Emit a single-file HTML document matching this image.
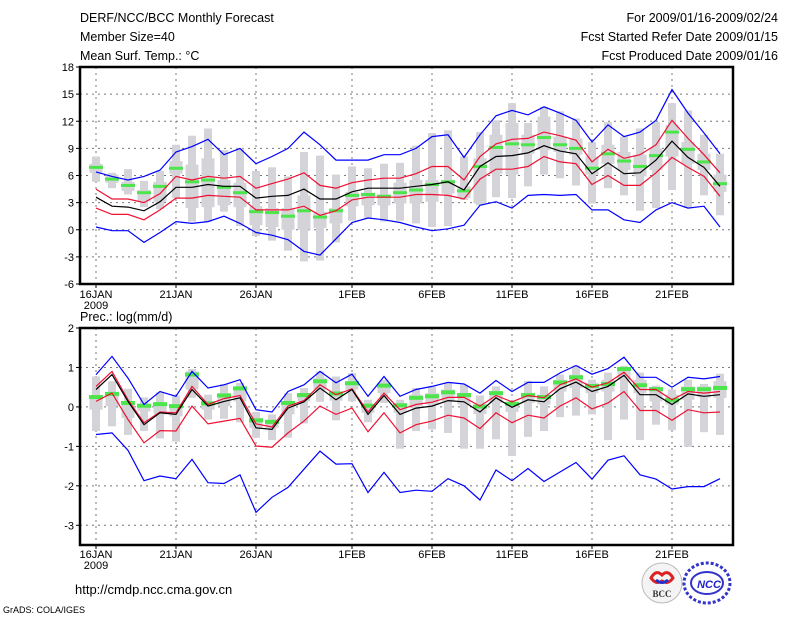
<!DOCTYPE html>
<html><head><meta charset="utf-8"><style>
body{margin:0;background:#fff;}
svg{display:block;font-family:"Liberation Sans","DejaVu Sans",sans-serif;}
</style></head><body>
<svg id="c" width="800" height="618" xmlns="http://www.w3.org/2000/svg">
<text x="80" y="22" font-size="12.5">DERF/NCC/BCC Monthly Forecast</text>
<text x="80" y="41" font-size="12.5">Member Size=40</text>
<text x="80" y="60" font-size="12.5">Mean Surf. Temp.: °C</text>
<text x="778" y="22" font-size="12.5" text-anchor="end">For 2009/01/16-2009/02/24</text>
<text x="778" y="41" font-size="12.5" text-anchor="end">Fcst Started Refer Date 2009/01/15</text>
<text x="778" y="60" font-size="12.5" text-anchor="end">Fcst Produced Date 2009/01/16</text>
<text x="80" y="321" font-size="12.5">Prec.: log(mm/d)</text>
<text x="75" y="594" font-size="13">http://cmdp.ncc.cma.gov.cn</text>
<text x="3" y="613" font-size="9">GrADS: COLA/IGES</text>
<g>
<circle cx="662" cy="583" r="20" fill="#f4f4f4" stroke="#bbb"/>
<path d="M651 578 q5 -9 11 -3 q6 -6 11 3 q-5 7 -11 3 q-6 4 -11 -3z" fill="none" stroke="#d22" stroke-width="3"/>
<path d="M656 580 q6 5 12 0" fill="none" stroke="#23c" stroke-width="3"/>
<text x="662" y="597" font-size="9" font-weight="bold" text-anchor="middle" fill="#333" font-family="Liberation Serif,serif">BCC</text>
</g>
<g>
<ellipse cx="707" cy="583" rx="23" ry="20" fill="none" stroke="#33c" stroke-width="3" stroke-dasharray="3 2"/>
<ellipse cx="707" cy="583" rx="16" ry="11" fill="none" stroke="#33c" stroke-width="2"/>
<text x="709" y="588" font-size="11" font-weight="bold" font-style="italic" text-anchor="middle" fill="#22c">NCC</text>
</g>
</svg>
<script>
// ---- temperature panel data ----
const days=["16JAN","","","","","21JAN","","","","","26JAN","","","","","","1FEB","","","","","6FEB","","","","","11FEB","","","","","16FEB","","","","","21FEB","","",""];
const tempTicks=[-6,-3,0,3,6,9,12,15,18];
const tBlueHi=[6.4,5.9,5.5,5.9,6.6,8.6,9.2,10.0,8.3,9.0,7.3,8.1,9.0,10.8,9.4,7.7,7.7,7.7,8.3,8.3,9.0,10.3,10.5,8.0,10.5,12.6,13.2,12.7,13.6,12.9,12.1,9.7,11.6,10.3,10.8,12.1,15.5,12.9,10.7,8.4];
const tRedHi=[4.5,3.4,3.4,3.0,4.0,5.9,5.5,5.9,5.7,5.9,4.6,5.1,5.6,6.3,4.9,4.6,5.2,5.5,5.7,5.7,6.2,7.0,7.0,5.5,8.1,9.5,10.0,10.1,10.8,10.4,9.9,7.5,8.9,7.9,8.3,9.4,12.1,10.1,8.3,6.3];
const tMean=[3.6,2.6,2.5,2.1,3.1,4.7,4.7,5.0,4.8,4.8,3.5,3.7,3.8,4.5,3.4,3.4,4.2,4.6,4.6,4.6,4.8,5.0,5.3,4.4,7.0,8.1,8.2,8.5,9.3,8.7,8.4,6.2,7.4,6.2,6.3,7.7,9.8,8.0,6.9,4.8];
const tRedLo=[2.4,1.7,1.7,1.1,2.2,3.5,3.5,3.8,3.7,3.6,2.2,2.2,2.2,2.6,1.6,2.1,3.3,3.6,3.6,3.6,3.9,3.9,3.8,3.4,5.6,6.7,6.7,7.0,8.1,7.5,7.3,5.0,6.0,4.9,4.9,6.3,8.0,6.9,5.9,3.7];
const tBlueLo=[0.3,-0.1,-0.1,-1.4,-0.3,0.9,0.7,0.9,1.5,0.7,-0.3,-0.6,-1.1,-2.4,-2.8,-1.0,0.8,1.3,1.1,0.8,0.3,-0.1,0.1,0.5,2.7,3.1,2.4,3.8,3.9,3.8,3.9,2.2,2.2,1.1,0.8,2.2,3.0,2.4,2.6,0.3];
const tMax=[8.1,6.3,6.7,5.4,6.5,9.4,10.4,11.2,8.8,9.0,6.5,6.9,5.9,8.6,8.2,6.1,7.0,6.8,7.3,7.4,9.3,10.7,11.0,8.1,10.8,12.1,14.0,11.8,13.6,13.1,12.3,9.7,11.9,10.3,11.2,11.9,14.0,13.2,10.5,8.4];
const tMin=[5.3,4.6,3.9,2.5,2.3,3.5,0.9,0.9,2.0,0.4,-0.7,-1.2,-2.3,-3.5,-3.4,-1.4,1.0,1.3,0.9,1.0,0.7,0.3,0.4,3.3,2.7,3.6,3.5,4.8,6.1,5.7,4.9,2.9,4.6,3.8,2.1,2.4,4.4,2.4,3.8,1.6];
const tQ3=[7.3,6.1,5.3,4.4,5.3,7.6,7.2,7.9,5.5,5.2,2.6,2.4,2.4,3.8,2.0,2.4,4.2,4.1,3.9,5.2,5.5,5.5,5.5,4.8,7.9,10.5,11.8,10.5,12.5,10.3,10.1,8.1,9.4,8.6,8.3,9.0,11.6,9.7,8.4,6.1];
const tQ1=[6.3,5.2,4.3,3.1,3.1,6.2,2.4,2.5,2.7,2.5,0.5,0.3,0.0,0.0,0.2,0.7,2.6,2.7,2.7,2.9,2.9,3.1,4.0,3.5,2.9,6.2,6.1,8.4,8.8,8.6,8.3,6.1,7.3,6.6,5.9,6.6,8.1,7.3,6.6,4.2];
const tGreen=[6.9,5.6,4.9,4.1,4.8,6.8,5.3,5.5,4.7,4.1,2.0,1.9,1.5,2.1,1.4,2.1,3.8,3.9,3.7,4.1,4.4,5.0,5.3,4.3,7.0,9.1,9.5,9.4,10.2,9.4,9.0,6.8,8.4,7.6,7.0,8.2,10.8,8.9,7.5,5.1];
// ---- precipitation panel data ----
const precTicks=[-3,-2,-1,0,1,2];
const pBlueHi=[0.82,1.28,0.73,0.06,0.39,0.27,0.90,0.48,0.56,0.69,-0.07,-0.13,0.39,0.56,0.90,0.61,0.83,0.27,0.77,0.27,0.44,0.52,0.62,0.58,0.35,0.67,0.39,0.62,0.62,0.86,1.05,0.83,0.97,1.26,0.75,0.75,0.50,0.75,0.71,0.77];
const pRedHi=[0.52,0.90,0.18,-0.40,-0.13,-0.15,0.52,0.06,0.21,0.29,-0.43,-0.51,0.02,0.16,0.56,0.31,0.46,-0.13,0.35,-0.07,0.06,0.12,0.24,0.24,0.02,0.29,0.13,0.29,0.23,0.56,0.71,0.50,0.61,0.88,0.44,0.44,0.18,0.39,0.35,0.39];
const pMean=[0.44,0.82,0.14,-0.45,-0.15,-0.19,0.44,0.02,0.14,0.23,-0.53,-0.57,-0.03,0.13,0.48,0.18,0.44,-0.19,0.29,-0.19,-0.03,0.02,0.16,0.13,-0.13,0.23,-0.01,0.18,0.13,0.46,0.63,0.39,0.52,0.80,0.31,0.31,0.06,0.33,0.27,0.31];
const pRedLo=[0.14,0.35,-0.32,-0.91,-0.60,-0.61,0.02,-0.43,-0.36,-0.29,-0.99,-1.02,-0.66,-0.36,0.02,-0.19,-0.03,-0.63,-0.15,-0.66,-0.45,-0.36,-0.21,-0.28,-0.55,-0.15,-0.40,-0.21,-0.28,0.02,0.23,-0.05,0.10,0.39,-0.09,-0.09,-0.34,-0.07,-0.15,-0.13];
const pBlueLo=[-0.70,-0.66,-1.10,-1.87,-1.75,-1.82,-1.33,-1.92,-1.94,-1.72,-2.67,-2.29,-2.04,-1.58,-1.12,-1.45,-1.44,-2.17,-1.66,-2.17,-2.11,-2.14,-1.82,-2.00,-2.36,-1.60,-1.87,-1.56,-1.89,-1.65,-1.41,-1.83,-1.35,-1.24,-1.72,-1.83,-2.08,-2.02,-2.02,-1.82];
const pMax=[0.77,0.65,0.46,0.24,0.37,0.29,0.96,0.31,0.58,0.61,-0.13,-0.19,0.35,0.48,0.90,0.77,0.86,0.18,0.69,0.18,0.48,0.52,0.61,0.56,0.29,0.52,0.14,0.66,0.52,0.82,1.05,0.69,0.87,1.04,0.87,0.54,0.44,0.69,0.58,0.84];
const pMin=[-0.61,-0.49,-0.71,-0.61,-0.80,-0.88,0.23,-0.32,-0.30,-0.39,-0.78,-0.84,-0.78,-0.42,0.13,-0.34,0.14,-0.39,0.10,-1.06,-0.61,-0.57,-0.66,-1.06,-1.06,-0.82,-1.24,-0.76,-0.61,-0.26,-0.22,-0.19,-0.84,-0.32,-0.84,-0.45,-0.59,-1.01,-0.64,-0.71];
const pQ3=[0.27,0.35,0.14,0.06,0.10,0.06,0.90,0.14,0.35,0.52,-0.28,-0.32,0.14,0.35,0.73,0.39,0.65,0.08,0.61,0.10,0.31,0.35,0.44,0.35,0.06,0.39,0.10,0.35,0.31,0.69,0.82,0.61,0.69,0.98,0.69,0.50,0.31,0.52,0.52,0.65];
const pQ1=[-0.07,0.02,-0.28,-0.11,-0.19,-0.24,0.44,-0.07,0.02,0.14,-0.53,-0.53,-0.19,0.14,0.44,0.16,0.44,-0.15,0.35,-0.15,0.02,0.06,0.14,0.06,-0.18,0.10,-0.13,0.10,0.06,0.39,0.48,0.35,0.39,0.69,0.35,0.14,0.06,0.18,0.24,0.23];
const pGreen=[0.25,0.33,0.10,0.03,0.07,0.02,0.82,0.09,0.29,0.47,-0.34,-0.38,0.10,0.30,0.65,0.34,0.60,0.03,0.54,0.04,0.23,0.27,0.37,0.30,0.01,0.35,0.08,0.30,0.25,0.62,0.75,0.53,0.58,0.96,0.55,0.45,0.17,0.45,0.45,0.48];

const NS="http://www.w3.org/2000/svg";
const svg=document.getElementById('c');
const X0=80,X1=733;
const xAt=i=>96+16*i;
function mk(tag,attrs,parent){const e=document.createElementNS(NS,tag);for(const k in attrs)e.setAttribute(k,attrs[k]);(parent||svg).appendChild(e);return e;}

function panel(name,top,bottom,vmin,vmax,ticks,hi2,hi1,mean,lo1,lo2,mx,mn,q3,q1,gr,gh,labY){
  const y=v=>bottom-(v-vmin)/(vmax-vmin)*(bottom-top);
  const g=mk('g',{});
  
  
  ticks.forEach(t=>{
    if(t>vmin&&t<vmax){const l=mk('line',{x1:X0,x2:X1,y1:y(t),y2:y(t),stroke:'#777','stroke-dasharray':'2 4','stroke-width':1},g);
    
    }
  });
  days.forEach((d,i)=>{ if(d){const l=mk('line',{x1:xAt(i),x2:xAt(i),y1:top,y2:bottom,stroke:'#777','stroke-dasharray':'2 4','stroke-width':1},g);
    
    }});
  mx.forEach((v,i)=>{
    const w=mk('rect',{x:xAt(i)-4,y:y(v),width:8,height:y(mn[i])-y(v),fill:'#d3d3d8'},g);
    
    
    const b=mk('rect',{x:xAt(i)-6.5,y:y(q3[i]),width:13,height:y(q1[i])-y(q3[i]),fill:'#d3d3d8'},g);
    
    
  });
  gr.forEach((v,i)=>{
    const r=mk('rect',{x:xAt(i)-7,y:y(v)-gh/2,width:14,height:gh,fill:'#4ce64c'},g);
    
    
  });
  const series=[[hi2,'#0000ff','upper-bound-line'],[lo2,'#0000ff','lower-bound-line'],[hi1,'#ee1133','upper-spread-line'],[lo1,'#ee1133','lower-spread-line'],[mean,'#000','ensemble-mean-line']];
  series.forEach(([arr,c,n])=>{
    const p=mk('polyline',{points:arr.map((v,i)=>xAt(i)+','+y(v).toFixed(1)).join(' '),fill:'none',stroke:c,'stroke-width':1.2},g);
    
    
  });
  const f=mk('rect',{x:X0,y:top,width:X1-X0,height:bottom-top,fill:'none',stroke:'#000','stroke-width':2.5},g);
  
  
  ticks.forEach(t=>{
    mk('line',{x1:X0-4,x2:X0,y1:y(t),y2:y(t),stroke:'#000'},g);
    const tx=mk('text',{x:X0-6,y:y(t)+4,'font-size':11,'text-anchor':'end'},g);
    tx.textContent=t;
    
    
  });
  days.forEach((d,i)=>{ if(d){
    mk('line',{x1:xAt(i),x2:xAt(i),y1:bottom,y2:bottom+4,stroke:'#000'},g);
    const tx=mk('text',{x:xAt(i),y:labY,'font-size':11,'text-anchor':'middle'},g);
    tx.textContent=d;
    
    
  }});
  const yr=mk('text',{x:xAt(0),y:labY+11,'font-size':11,'text-anchor':'middle'},g);
  yr.textContent='2009';
  
  
}
panel('temperature',67,284,-6,18,tempTicks,tBlueHi,tRedHi,tMean,tRedLo,tBlueLo,tMax,tMin,tQ3,tQ1,tGreen,3,298);
panel('precipitation',328,545,-3.5,2,precTicks,pBlueHi,pRedHi,pMean,pRedLo,pBlueLo,pMax,pMin,pQ3,pQ1,pGreen,4,558);
</script>
</body></html>
